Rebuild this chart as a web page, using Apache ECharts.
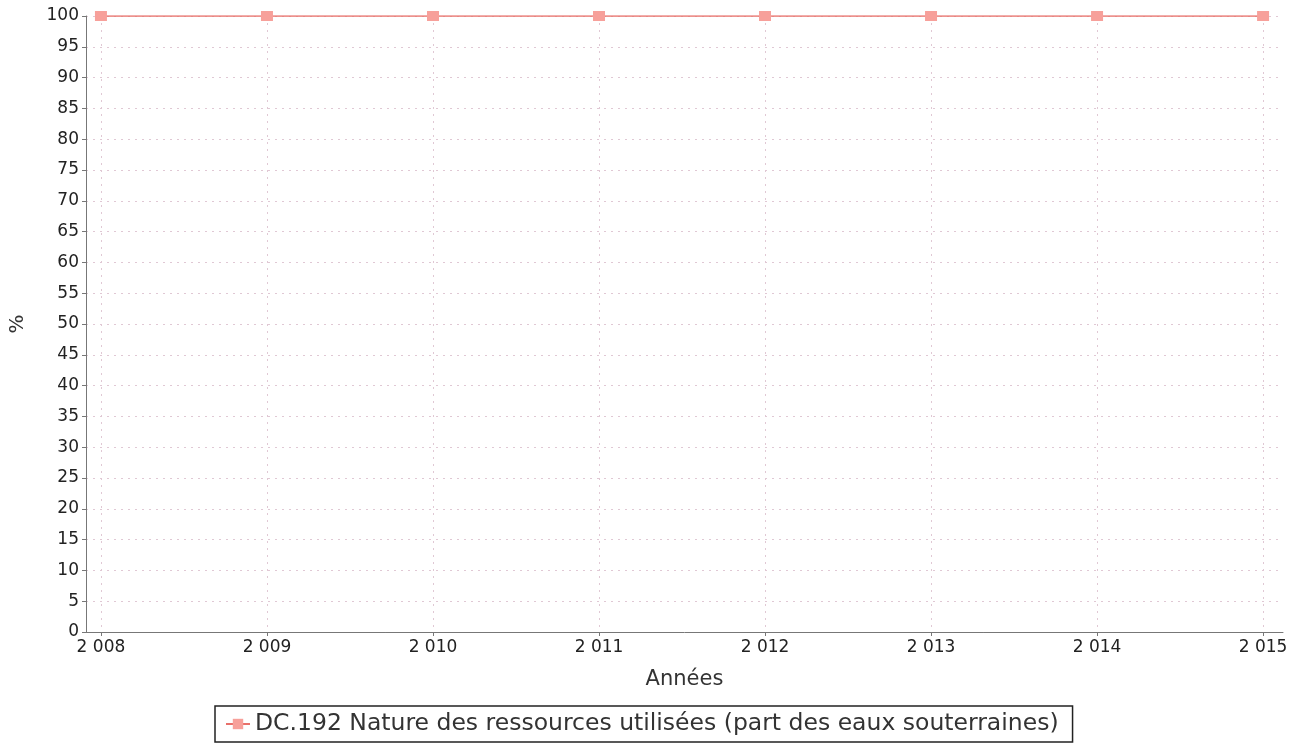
<!DOCTYPE html>
<html><head><meta charset="utf-8">
<script src="https://cdn.jsdelivr.net/npm/echarts@6/dist/echarts.min.js"></script>
<style>html,body{margin:0;padding:0;background:#fff}#c{width:1307px;height:747px}</style>
</head><body><div id="c"></div>
<script>
const years = [2008, 2009, 2010, 2011, 2012, 2013, 2014, 2015];
const values = [100, 100, 100, 100, 100, 100, 100, 100];
const seriesName = 'DC.192 Nature des ressources utilisées (part des eaux souterraines)';
const fmtYear = v => String(v).replace(/\B(?=(\d{3})+(?!\d))/g, ' ');
const chart = echarts.init(document.getElementById('c'));
chart.setOption({
  animation: false,
  backgroundColor: '#fff',
  textStyle: {fontFamily: 'DejaVu Sans'},
  grid: {left: 86, right: 24, top: 16, bottom: 115, containLabel: false, outerBoundsMode: 'none'},
  xAxis: {
    type: 'value', min: 2007.91, max: 2015.12,
    name: 'Années', nameLocation: 'middle', nameGap: 37,
    nameTextStyle: {fontSize: 21, color: '#333', fontFamily: 'DejaVu Sans'},
    axisLine: {lineStyle: {color: '#777'}},
    axisTick: {show: true, length: 4, lineStyle: {color: '#777'}, customValues: years},
    axisLabel: {customValues: years, formatter: fmtYear, fontSize: 17, color: '#222', margin: 7},
    splitLine: {show: true, lineStyle: {color: '#e0c8d4', type: [2, 5], width: 1}}
  },
  yAxis: {
    type: 'value', min: 0, max: 100, interval: 5,
    name: '%', nameLocation: 'middle', nameGap: 58, nameRotate: 90,
    nameTextStyle: {fontSize: 20, color: '#333', fontFamily: 'DejaVu Sans'},
    axisLine: {show: true, lineStyle: {color: '#777'}},
    axisTick: {show: true, length: 4, lineStyle: {color: '#777'}},
    axisLabel: {fontSize: 17, color: '#222', margin: 7},
    splitLine: {show: true, lineStyle: {color: '#e0c8d4', type: [2, 5], width: 1}}
  },
  legend: {
    bottom: 5, left: 215,
    data: [seriesName],
    borderColor: '#222', borderWidth: 1.5, borderRadius: 0,
    padding: [6, 14, 6, 10],
    itemWidth: 24, itemHeight: 13,
    textStyle: {fontSize: 23.5, color: '#333', fontFamily: 'DejaVu Sans'}
  },
  series: [{
    name: seriesName, type: 'line',
    data: years.map((y, i) => [y, values[i]]),
    symbol: 'rect', symbolSize: [12, 10],
    lineStyle: {color: '#e8706a', width: 1.5},
    itemStyle: {color: '#f7a09a'}
  }]
});
</script></body></html>
